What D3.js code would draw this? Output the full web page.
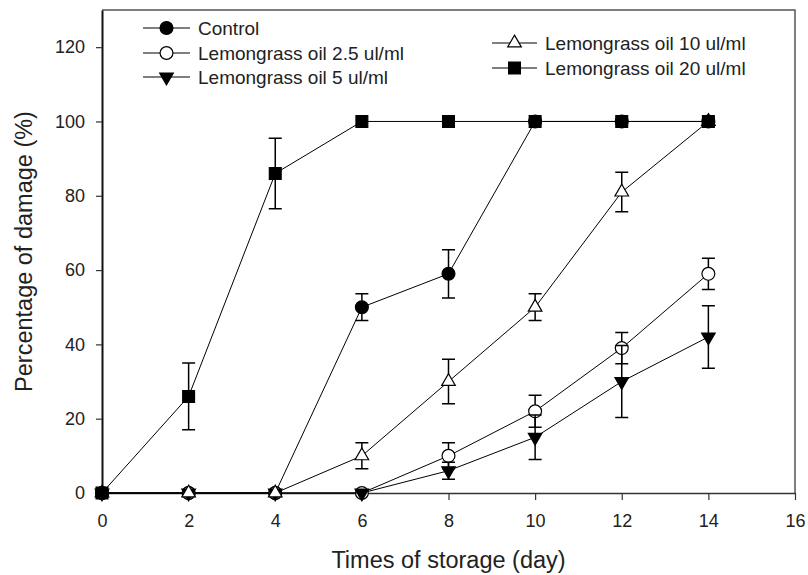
<!DOCTYPE html>
<html>
<head>
<meta charset="utf-8">
<script src="https://cdn.jsdelivr.net/npm/d3@7"></script>
<style>
  body { margin: 0; background: #fff; }
  svg { display: block; font-family: 'Liberation Sans', Arial, sans-serif; }
</style>
</head>
<body>
<div class="chart-container"></div>
<script>
// data
const days = [0, 2, 4, 6, 8, 10, 12, 14];
const seriesNames = ['Control', 'Lemongrass oil 2.5 ul/ml', 'Lemongrass oil 5 ul/ml',
                     'Lemongrass oil 10 ul/ml', 'Lemongrass oil 20 ul/ml'];
const controlMean = [0, 0, 0, 50, 59, 100, 100, 100];
const controlErr  = [0, 0, 0, 3.6, 6.5, 0, 0, 0];
const oil25Mean   = [0, 0, 0, 0, 10, 22, 39, 59];
const oil25Err    = [0, 0, 0, 0, 3.5, 4.3, 4.2, 4.2];
const oil5Mean    = [0, 0, 0, 0, 6, 15, 30, 42];
const oil5Err     = [0, 0, 0, 0, 2.3, 6, 9.7, 8.4];
const oil10Mean   = [0, 0, 0, 10, 30, 50, 81, 100];
const oil10Err    = [0, 0, 0, 3.5, 6, 3.6, 5.3, 0];
const oil20Mean   = [0, 26, 86, 100, 100, 100, 100, 100];
const oil20Err    = [0, 9, 9.5, 0, 0, 0, 0, 0];
const xTicks = [0, 2, 4, 6, 8, 10, 12, 14, 16];
const yTicks = [0, 20, 40, 60, 80, 100, 120];

const means = [controlMean, oil25Mean, oil5Mean, oil10Mean, oil20Mean];
const errs = [controlErr, oil25Err, oil5Err, oil10Err, oil20Err];
// marker look per series
const markers = [
  {type: d3.symbolCircle,   size: 130, fill: '#000', rotate: 0},
  {type: d3.symbolCircle,   size: 130, fill: '#fff', rotate: 0},
  {type: d3.symbolTriangle, size: 80,  fill: '#000', rotate: 180},
  {type: d3.symbolTriangle, size: 80,  fill: '#fff', rotate: 0},
  {type: d3.symbolSquare,   size: 140, fill: '#000', rotate: 0}
];

const series = seriesNames.map((name, i) => ({
  name: name,
  marker: markers[i],
  values: days.map((d, j) => ({day: d, mean: means[i][j], err: errs[i][j]}))
}));

function setupCanvas(){
  const svg_width = 808;
  const svg_height = 575;
  const margin = {top: 10, right: 13, bottom: 82, left: 102};
  const chart_width = svg_width - margin.left - margin.right;
  const chart_height = svg_height - margin.top - margin.bottom;

  const svg = d3.select('.chart-container')
                .append('svg')
                .attr('width', svg_width).attr('height', svg_height);
  svg.append('rect').attr('width', svg_width).attr('height', svg_height).style('fill', '#fff');

  const g = svg.append('g')
               .attr('transform', `translate(${margin.left},${margin.top})`);

  const xScale = d3.scaleLinear().domain([0, 16]).range([0, chart_width]);
  const yScale = d3.scaleLinear().domain([0, 130]).range([chart_height, 0]);

  // frame top/right
  g.append('path')
   .attr('d', `M0,0H${chart_width}V${chart_height}`)
   .style('fill', 'none').style('stroke', '#555').style('stroke-width', 1.5);

  const xAxis = d3.axisBottom(xScale).tickValues(xTicks).tickSizeInner(7).tickSizeOuter(0).tickPadding(14);
  const xAxisDraw = g.append('g').attr('class', 'x axis')
                     .attr('transform', `translate(0,${chart_height})`)
                     .call(xAxis);
  xAxisDraw.select('.domain').style('stroke', '#333').style('stroke-width', 1.5);

  const yAxis = d3.axisLeft(yScale).tickValues(yTicks).tickSizeInner(6).tickSizeOuter(0).tickPadding(11);
  const yAxisDraw = g.append('g').attr('class', 'y axis').call(yAxis);
  yAxisDraw.select('.domain').style('stroke', '#111').style('stroke-width', 2);

  g.selectAll('.axis text').style('font-size', '18px').style('fill', '#222')
   .style('font-family', "'Liberation Sans', Arial, sans-serif");
  g.selectAll('.axis .tick line').style('stroke', '#333').style('stroke-width', 1.2);

  // axis titles
  svg.append('text')
     .attr('x', margin.left + chart_width / 2).attr('y', 568)
     .attr('text-anchor', 'middle')
     .style('font-size', '23.5px').style('fill', '#222')
     .text('Times of storage (day)');
  svg.append('text')
     .attr('transform', `translate(32,${margin.top + yScale(65)}) rotate(-90)`)
     .attr('text-anchor', 'middle')
     .style('font-size', '23.5px').style('fill', '#222')
     .text('Percentage of damage (%)');

  const line = d3.line().x(d => xScale(d.day)).y(d => yScale(d.mean));

  series.forEach(s => {
    const sg = g.append('g').attr('class', 'series');
    sg.append('path')
      .datum(s.values)
      .attr('d', line)
      .style('fill', 'none').style('stroke', '#000').style('stroke-width', 1);

    const eb = sg.selectAll('.err')
                 .data(s.values.filter(d => d.err > 0))
                 .enter().append('g').attr('class', 'err');
    eb.append('path')
      .attr('d', d => {
        const x = xScale(d.day), y1 = yScale(d.mean + d.err), y2 = yScale(d.mean - d.err);
        return `M${x},${y1}V${y2}M${x - 6.5},${y1}H${x + 6.5}M${x - 6.5},${y2}H${x + 6.5}`;
      })
      .style('fill', 'none').style('stroke', '#000').style('stroke-width', 1.5);

    sg.selectAll('.pt')
      .data(s.values)
      .enter().append('path').attr('class', 'pt')
      .attr('d', d3.symbol().type(s.marker.type).size(s.marker.size))
      .attr('transform', d => `translate(${xScale(d.day)},${yScale(d.mean)}) rotate(${s.marker.rotate})`)
      .style('fill', s.marker.fill).style('stroke', '#000').style('stroke-width', 1.2);
  });

  // legend
  const legendPos = [
    {x: 143, y: 28, len: 47},
    {x: 143, y: 53, len: 47},
    {x: 143, y: 77, len: 47},
    {x: 492, y: 43, len: 45},
    {x: 492, y: 68, len: 45}
  ];
  const legend = svg.append('g').attr('class', 'legend');
  series.forEach((s, i) => {
    const p = legendPos[i];
    const item = legend.append('g').attr('transform', `translate(${p.x},${p.y})`);
    item.append('line').attr('x1', 0).attr('x2', p.len)
        .style('stroke', '#000').style('stroke-width', 1.2);
    item.append('path')
        .attr('d', d3.symbol().type(s.marker.type).size(s.marker.size))
        .attr('transform', `translate(${p.len / 2},0) rotate(${s.marker.rotate})`)
        .style('fill', s.marker.fill).style('stroke', '#000').style('stroke-width', 1.2);
    item.append('text')
        .attr('x', p.len + 8).attr('y', 7)
        .style('font-size', '19px').style('fill', '#222')
        .text(s.name);
  });
}

setupCanvas();
</script>
</body>
</html>
